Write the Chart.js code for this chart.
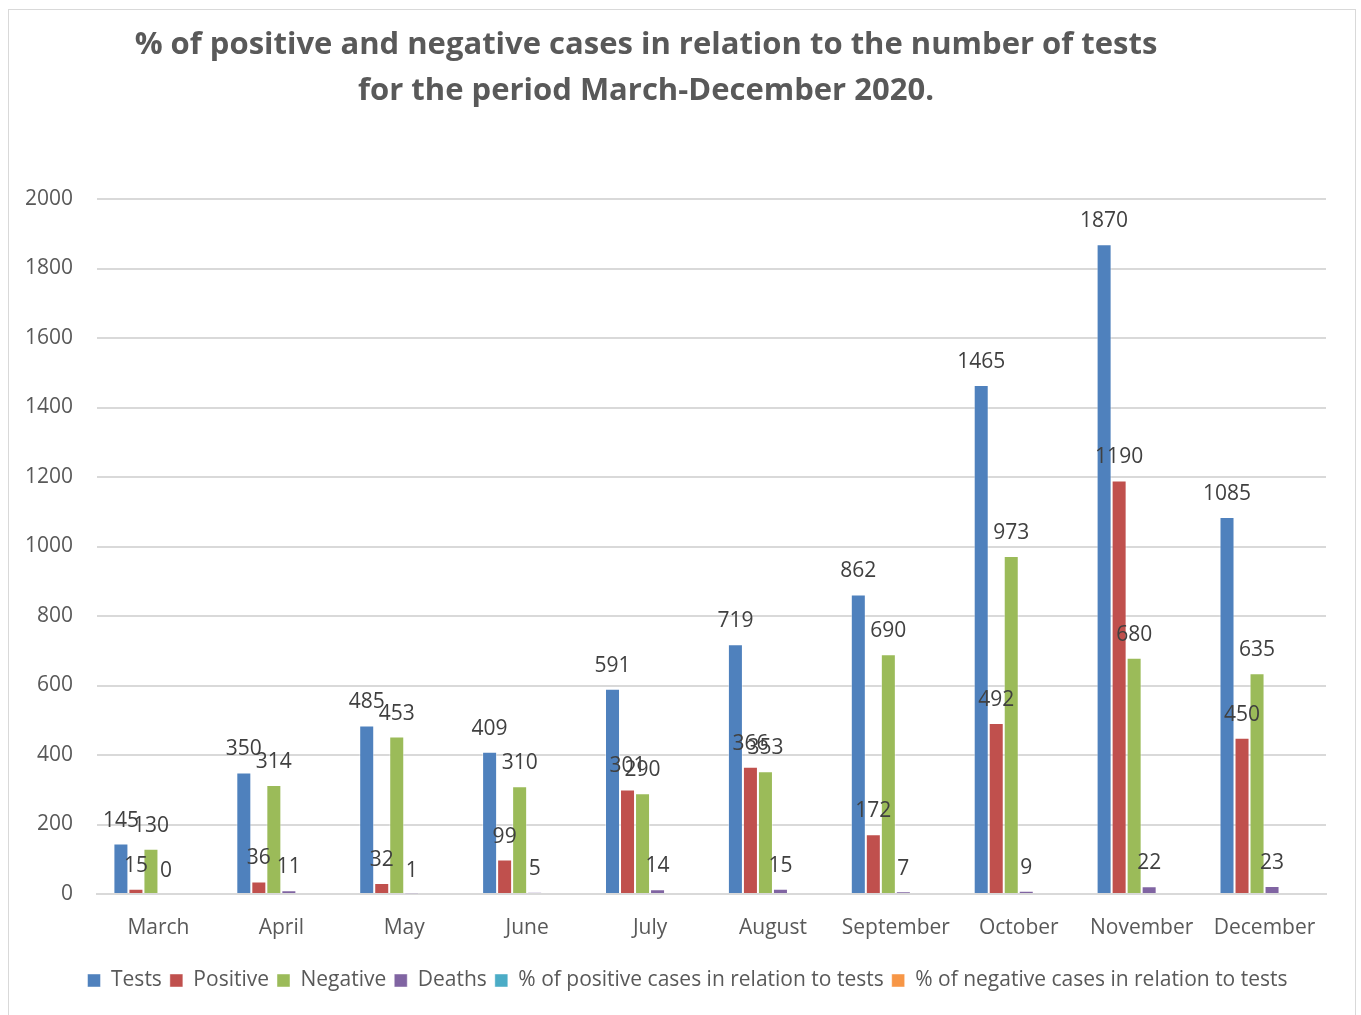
<!DOCTYPE html>
<html lang="en">
<head>
  <meta charset="UTF-8" />
  <title>% of positive and negative cases</title>
  <script src="https://cdn.jsdelivr.net/npm/chart.js"></script>
  <style>
    body {
      margin: 0;
      background: #fff;
    }

    #box {
      position: absolute;
      left: 8px;
      top: 9px;
      width: 1346px;
      height: 1020px;
      border: 1px solid #d9d9d9;
      background: #fff;
    }
  </style>
</head>
<body>

  <div id="box">
    <canvas id="casesChart" width="1346" height="1020"></canvas>
  </div>

  <script>
    const months = ["March", "April", "May", "June", "July", "August", "September", "October", "November", "December"];
    const tests    = [145, 350, 485, 409, 591, 719, 862, 1465, 1870, 1085];
    const positive = [15, 36, 32, 99, 301, 366, 172, 492, 1190, 450];
    const negative = [130, 314, 453, 310, 290, 353, 690, 973, 680, 635];
    const deaths   = [0, 11, 1, 5, 14, 15, 7, 9, 22, 23];
    // percentage series are listed in the legend but have no visible bars
    const pctPositive = [];
    const pctNegative = [];
    const yTicks = [0, 200, 400, 600, 800, 1000, 1200, 1400, 1600, 1800, 2000];

    const titleLines = [
      "% of positive and negative cases in relation to the number of tests",
      "for the period March-December 2020."
    ];

    const font = "'Open Sans', sans-serif";

    // two-line title, drawn by hand so it can sit left of the plot centre
    const titlePlugin = {
      id: 'titleLines',
      afterLayout(chart) {
        // legend sits a little right of the canvas centre
        chart.legend.left += 20;
        chart.legend.right += 20;
      },
      afterDraw(chart) {
        const ctx = chart.ctx;
        ctx.save();
        ctx.font = "bold 31px " + font;
        ctx.fillStyle = '#595959';
        ctx.textAlign = 'center';
        ctx.textBaseline = 'middle';
        ctx.fillText(titleLines[0], 637, 35);
        ctx.fillText(titleLines[1], 637, 81);
        ctx.restore();
      }
    };

    // value labels above the first four series
    const valueLabels = {
      id: 'valueLabels',
      afterDatasetsDraw(chart) {
        const ctx = chart.ctx;
        ctx.save();
        ctx.font = "21px " + font;
        ctx.fillStyle = '#404040';
        ctx.textAlign = 'center';
        ctx.textBaseline = 'alphabetic';
        for (let d = 0; d < 4; d++) {
          const meta = chart.getDatasetMeta(d);
          meta.data.forEach((bar, i) => {
            const v = chart.data.datasets[d].data[i];
            ctx.fillText(String(v), bar.x, bar.y - 17);
          });
        }
        ctx.restore();
      }
    };

    const ctx = document.getElementById('casesChart').getContext('2d');
    new Chart(ctx, {
      type: 'bar',
      data: {
        labels: months,
        datasets: [
          { label: 'Tests', data: tests, backgroundColor: '#4F81BD' },
          { label: 'Positive', data: positive, backgroundColor: '#C0504D' },
          { label: 'Negative', data: negative, backgroundColor: '#9BBB59' },
          { label: 'Deaths', data: deaths, backgroundColor: '#8064A2' },
          { label: '% of positive cases in relation to tests', data: pctPositive, backgroundColor: '#4BACC6' },
          { label: '% of negative cases in relation to tests', data: pctNegative, backgroundColor: '#F79646' }
        ]
      },
      options: {
        responsive: false,
        animation: false,
        datasets: {
          bar: {
            categoryPercentage: 0.733,
            barPercentage: 1,
            borderWidth: 1,
            borderColor: 'rgba(255,255,255,0.45)'
          }
        },
        layout: {
          padding: { top: 189, right: 29, left: 0, bottom: 29 }
        },
        plugins: {
          legend: {
            position: 'bottom',
            labels: {
              font: { family: font, size: 21 },
              color: '#595959',
              boxWidth: 13,
              boxHeight: 13,
              padding: 8
            }
          },
          tooltip: { enabled: false }
        },
        scales: {
          x: {
            grid: { display: false, drawTicks: false },
            border: { color: '#d9d9d9', width: 2 },
            afterFit: axis => {
              axis.height = 68;
            },
            ticks: {
              font: { family: font, size: 21 },
              color: '#595959',
              padding: 21
            }
          },
          y: {
            min: 0,
            max: 2000,
            afterBuildTicks: axis => {
              axis.ticks = yTicks.map(v => ({ value: v }));
            },
            afterFit: axis => {
              axis.width = 88;
            },
            grid: { color: '#d9d9d9', lineWidth: 2, drawTicks: false },
            border: { display: false },
            ticks: {
              font: { family: font, size: 21 },
              color: '#595959',
              padding: 24,
              callback: v => String(v)
            }
          }
        }
      },
      plugins: [titlePlugin, valueLabels]
    });
  </script>

</body>
</html>
